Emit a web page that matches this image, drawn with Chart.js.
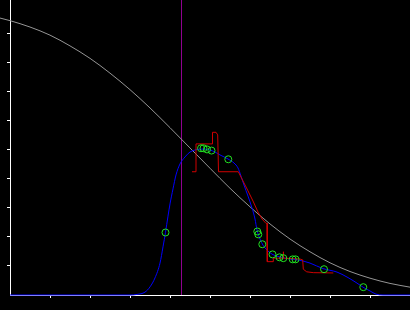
<!DOCTYPE html>
<html>
<head>
<meta charset="utf-8">
<script src="https://cdn.jsdelivr.net/npm/chart.js@4"></script>
<style>
  html, body { margin: 0; padding: 0; background: #000; }
  #chart { display: block; background: #000; }
</style>
</head>
<body>
<canvas id="chart" width="410" height="310"></canvas>
<script>
// ---- Data ----
// grey decreasing curve
const greyX = [-0.25, 0, 0.5, 1.0, 1.5, 2.0, 2.5, 3.0, 3.5, 4.0, 4.5, 5.0, 5.5, 6.0, 6.5, 7.0, 7.5,
  8.0, 8.5, 9.0, 9.5, 10.0];
const greyY = [0.955, 0.946, 0.924, 0.896, 0.859, 0.816, 0.765, 0.708, 0.645, 0.577, 0.507, 0.437, 0.368,
  0.304, 0.245, 0.193, 0.149, 0.111, 0.081, 0.058, 0.04, 0.027];

// blue smooth curve
const blueX = [0, 3.0, 3.175, 3.375, 3.5, 3.625, 3.75, 3.825, 3.8875, 3.95, 4.0, 4.075, 4.15, 4.25, 4.375,
  4.5, 4.625, 4.75, 4.875, 5.0, 5.125, 5.25, 5.45, 5.6, 5.7, 5.775, 5.85, 5.95, 6.05, 6.125, 6.175,
  6.25, 6.325, 6.425, 6.55, 6.75, 7.0, 7.2, 7.5, 7.825, 8.175, 8.425, 8.675, 8.825, 9.0, 9.15, 9.325, 10];
const blueY = [0, 0, 0.002, 0.01, 0.028, 0.059, 0.11, 0.166, 0.216, 0.272, 0.314, 0.366, 0.414, 0.452, 0.476,
  0.493, 0.5, 0.503, 0.503, 0.5, 0.493, 0.483, 0.469, 0.455, 0.438, 0.41, 0.379, 0.341, 0.3, 0.262, 0.224,
  0.193, 0.172, 0.155, 0.141, 0.131, 0.124, 0.121, 0.11, 0.091, 0.079, 0.062, 0.041, 0.027, 0.014, 0.003, 0, 0];

// red step line
const redX = [4.55, 4.65, 4.65, 5.05, 5.0625, 5.15, 5.1925, 5.2125, 5.7075, 5.825, 5.95, 6.075, 6.2, 6.3, 6.4,
  6.425, 6.4325, 6.5825, 6.5825, 6.825, 6.8325, 6.84, 7.25, 7.3175, 7.3325, 7.4175, 7.5825, 8.0825];
const redY = [0.425, 0.425, 0.521, 0.521, 0.561, 0.561, 0.552, 0.425, 0.425, 0.393, 0.359, 0.324, 0.286, 0.262, 0.247,
  0.247, 0.115, 0.115, 0.127, 0.127, 0.149, 0.127, 0.124, 0.121, 0.089, 0.08, 0.077, 0.076];

// green observations
const obsX = [3.8875, 4.775, 4.8375, 4.925, 5.0375, 5.4575, 6.1825, 6.2075, 6.3075, 6.5625, 6.7375,
  6.8325, 7.0675, 7.1375, 7.85, 8.8325];
const obsY = [0.2155, 0.506, 0.506, 0.502, 0.498, 0.468, 0.219, 0.209, 0.175, 0.14, 0.13,
  0.127, 0.123, 0.123, 0.089, 0.027];

// vertical marker
const markerX = 4.2875;

// ---- Axes ----
const X_MIN = 0, X_MAX = 10;
const Y_MIN = 0, Y_MAX = 1.0172;

const zip = (xs, ys) => xs.map((x, i) => ({ x, y: ys[i] }));

function axis(extra) {
  return Object.assign({
    type: "linear",
    ticks: { display: false, stepSize: 0.1 },
    grid: { drawOnChartArea: false, drawTicks: true, tickLength: 3, color: "#fff", lineWidth: 1 },
    border: { display: true, color: "#fff", width: 1 },
  }, extra);
}

new Chart(document.getElementById("chart"), {
  type: "line",
  data: {
    datasets: [
      {
        data: zip(obsX, obsY),
        showLine: false,
        pointRadius: 3.5,
        pointHoverRadius: 0,
        pointBorderWidth: 1,
        pointBorderColor: "#22e022",
        pointBackgroundColor: "rgba(0,0,0,0)",
        clip: false,
      },
      {
        data: zip(redX, redY),
        borderColor: "#d00000",
        borderWidth: 1,
        pointRadius: 0,
        tension: 0,
      },
      {
        data: zip(blueX, blueY),
        borderColor: "#0000ff",
        borderWidth: 1,
        pointRadius: 0,
        cubicInterpolationMode: "monotone",
        clip: false,
      },
      {
        data: zip(greyX, greyY),
        borderColor: "#959595",
        borderWidth: 1,
        pointRadius: 0,
        cubicInterpolationMode: "monotone",
        clip: false,
      },
      {
        data: [{ x: markerX, y: Y_MIN }, { x: markerX, y: Y_MAX }],
        borderColor: "#900090",
        borderWidth: 1,
        pointRadius: 0,
      },
    ],
  },
  options: {
    responsive: false,
    animation: false,
    events: [],
    layout: { autoPadding: false, padding: { left: 7, right: 0, top: 0, bottom: 12 } },
    plugins: { legend: { display: false }, tooltip: { enabled: false } },
    scales: {
      x: axis({
        min: X_MIN, max: X_MAX,
        ticks: { display: false, stepSize: 1 },
        afterBuildTicks: s => { s.ticks = s.ticks.filter(t => t.value > X_MIN && t.value < X_MAX); },
      }),
      y: axis({
        min: Y_MIN, max: Y_MAX,
        afterBuildTicks: s => { s.ticks = s.ticks.filter(t => t.value > 0.001 && t.value < 0.95); },
      }),
    },
  },
});
</script>
</body>
</html>
